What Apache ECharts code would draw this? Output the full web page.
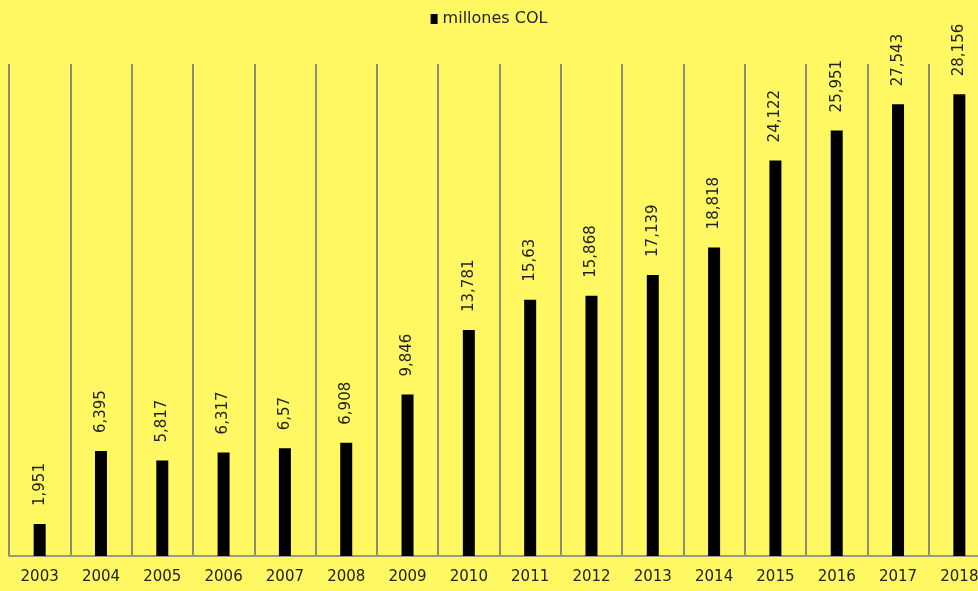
<!DOCTYPE html>
<html><head><meta charset="utf-8">
<script src="https://cdn.jsdelivr.net/npm/echarts@6/dist/echarts.min.js"></script>
<style>html,body{margin:0;padding:0;background:#FFF862;}#c{width:978px;height:591px;}</style>
</head><body><div id="c"></div>
<script>
const years = ['2003','2004','2005','2006','2007','2008','2009','2010','2011','2012','2013','2014','2015','2016','2017','2018'];
const values = [1951,6395,5817,6317,6570,6908,9846,13781,15630,15868,17139,18818,24122,25951,27543,28156];
const labels = ['1,951','6,395','5,817','6,317','6,57','6,908','9,846','13,781','15,63','15,868','17,139','18,818','24,122','25,951','27,543','28,156'];
const seriesName = 'millones COL';
const FONT = "'DejaVu Sans',sans-serif";
const chart = echarts.init(document.getElementById('c'));
chart.setOption({
  backgroundColor: '#FFF862',
  animation: false,
  textStyle: {fontFamily: FONT},
  legend: {
    top: 6, left: 'center',
    data: [seriesName],
    icon: 'rect', itemWidth: 7, itemHeight: 10, itemGap: 4,
    textStyle: {fontFamily: FONT, fontSize: 16, color: '#222'}
  },
  grid: {left: 9, top: 64, right: -12, bottom: 35, containLabel: false, outerBoundsMode: 'none'},
  xAxis: {
    type: 'category', data: years, boundaryGap: true,
    axisLine: {show: true, lineStyle: {color: '#999988', width: 2}},
    axisTick: {show: false},
    axisLabel: {fontFamily: FONT, fontSize: 15, color: '#222', margin: 14, interval: 0},
    splitLine: {show: true, interval: 0, lineStyle: {color: '#8f8f78', width: 2}}
  },
  yAxis: {
    type: 'value', min: 0, max: 30000, show: false,
    splitLine: {show: false}
  },
  series: [{
    name: seriesName, type: 'bar', data: values, barWidth: 12,
    itemStyle: {color: '#000'},
    label: {
      show: true, position: 'top', rotate: 90, align: 'left', verticalAlign: 'middle',
      distance: 18, fontFamily: FONT, fontSize: 15, color: '#222',
      formatter: p => labels[p.dataIndex]
    }
  }]
});
</script></body></html>
